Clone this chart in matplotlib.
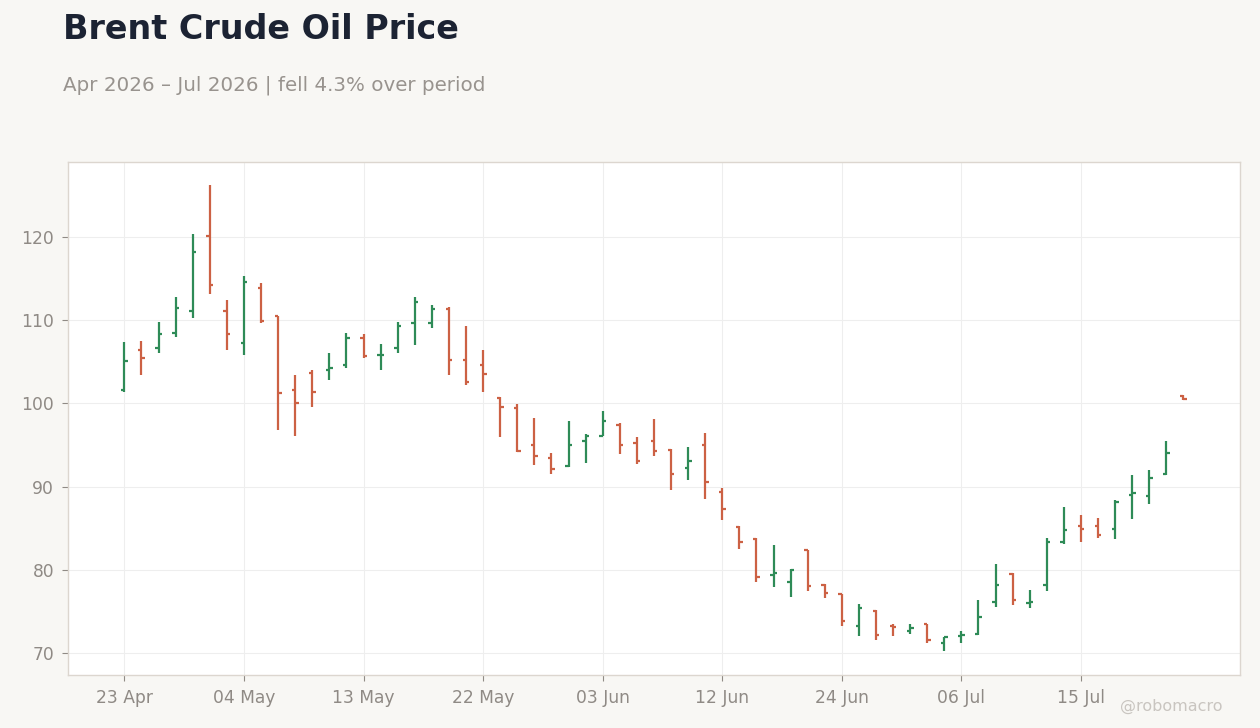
import numpy as np
import pandas as pd
import matplotlib.pyplot as plt

# Datos OHLC, dias habiles desde el 23 Apr 2026
fechas = pd.bdate_range('2026-04-23', periods=63, freq='C',
                        holidays=['2026-05-25', '2026-06-19', '2026-07-03'])

apertura = [101.65, 106.35, 106.6, 108.4, 111.15, 120.1, 111.15, 107.2, 113.9, 110.55,
            101.65, 103.7, 104.05, 104.55, 107.8, 105.75, 106.7, 109.7, 109.6, 111.3,
            105.25, 104.65, 100.6, 99.5, 95.0, 93.45, 92.5, 95.5, 96.1, 97.45,
            95.2, 95.5, 94.4, 92.25, 94.97, 89.32, 85.1, 83.7, 79.34, 78.5,
            82.38, 78.14, 77.05, 73.2, 75.0, 73.2, 72.7, 73.45, 71.16, 72.0,
            72.25, 76.1, 79.48, 76.05, 78.13, 83.36, 85.32, 85.32, 84.96, 89.0,
            88.92, 91.56, 100.92]
maximo = [107.35, 107.5, 109.8, 112.8, 120.4, 126.2, 112.45, 115.3, 114.45, 110.55,
          103.4, 104.0, 106.05, 108.5, 108.35, 107.15, 109.8, 112.8, 111.85, 111.6,
          109.3, 106.4, 100.75, 99.9, 98.2, 94.0, 97.9, 96.3, 99.1, 97.6,
          95.95, 98.1, 94.5, 94.75, 96.45, 89.84, 85.23, 83.83, 82.99, 80.1,
          82.42, 78.3, 77.1, 75.9, 75.13, 73.49, 73.5, 73.5, 71.93, 72.65,
          76.43, 80.64, 79.56, 77.63, 83.87, 87.56, 86.6, 86.24, 88.4, 91.4,
          92.0, 95.48, 101.04]
minimo = [101.4, 103.45, 106.0, 108.0, 110.3, 113.1, 106.35, 105.75, 109.7, 96.8,
          96.1, 99.6, 102.8, 104.2, 105.4, 103.95, 106.1, 106.95, 109.0, 103.35,
          102.25, 101.4, 96.0, 94.2, 92.6, 91.5, 92.35, 92.85, 96.05, 93.95,
          92.7, 93.7, 89.6, 90.8, 88.48, 85.95, 82.46, 78.5, 77.9, 76.7,
          77.4, 76.57, 73.2, 72.1, 71.52, 72.0, 72.24, 71.18, 70.2, 71.16,
          72.13, 75.5, 75.74, 75.38, 77.42, 83.16, 83.4, 83.88, 83.76, 86.16,
          87.96, 91.4, 100.44]
cierre = [105.1, 105.4, 108.3, 111.4, 118.15, 114.2, 108.3, 114.55, 109.9, 101.3,
          100.1, 101.4, 104.3, 107.9, 105.7, 105.85, 109.35, 112.2, 111.35, 105.15,
          102.6, 103.55, 99.6, 94.3, 93.7, 92.1, 95.0, 96.1, 97.9, 95.0,
          93.1, 94.3, 91.5, 93.1, 90.52, 87.35, 83.3, 79.1, 79.66, 79.94,
          78.0, 77.17, 73.8, 75.4, 72.12, 73.15, 72.97, 71.6, 71.9, 72.13,
          74.3, 78.15, 76.35, 76.1, 83.4, 84.8, 84.96, 84.24, 88.2, 89.28,
          91.08, 94.08, 100.56]

verde = '#2e8b57'
rojo = '#cc6144'
fondo = '#f8f7f4'

x = np.arange(len(fechas))
o = np.array(apertura)
h = np.array(maximo)
l = np.array(minimo)
c = np.array(cierre)
colores = [verde if cc >= oo else rojo for oo, cc in zip(o, c)]

fig = plt.figure(figsize=(12.6, 7.28), dpi=100, facecolor=fondo)
ax = fig.add_axes([0.054, 0.0728, 0.930, 0.7047])
ax.set_facecolor('white')

# barras OHLC: linea vertical alto-bajo, apertura a la izquierda, cierre a la derecha
ax.vlines(x, l, h, colors=colores, linewidth=1.6, zorder=3)
ax.hlines(o, x - 0.2, x, colors=colores, linewidth=1.6, zorder=3)
ax.hlines(c, x, x + 0.2, colors=colores, linewidth=1.6, zorder=3)

ax.set_xlim(-3.3, 65.3)
ax.set_ylim(67.36, 129.0)
ax.set_yticks([70, 80, 90, 100, 110, 120])
pos = x[::7]
ax.set_xticks(pos)
ax.set_xticklabels([fechas[i].strftime('%d %b') for i in pos])

ax.grid(True, color='#eeeeee', linewidth=0.8, zorder=0)
ax.set_axisbelow(True)
for s in ax.spines.values():
    s.set_color('#dcd6cf')
    s.set_linewidth(1.0)
ax.tick_params(colors='#8f8a85', labelsize=12.3, length=4, width=0.8, pad=6)

fig.text(0.05, 0.946, 'Brent Crude Oil Price', fontsize=24, fontweight='bold',
         color='#1c2333', ha='left', va='baseline')
fig.text(0.05, 0.876, 'Apr 2026 \u2013 Jul 2026 | fell 4.3% over period', fontsize=14.3,
         color='#98938e', ha='left', va='baseline')
fig.text(0.97, 0.024, '@robomacro', fontsize=11.5, color='#c9c5c0', ha='right', va='baseline')

fig.savefig('out.png', dpi=100, facecolor=fondo)
